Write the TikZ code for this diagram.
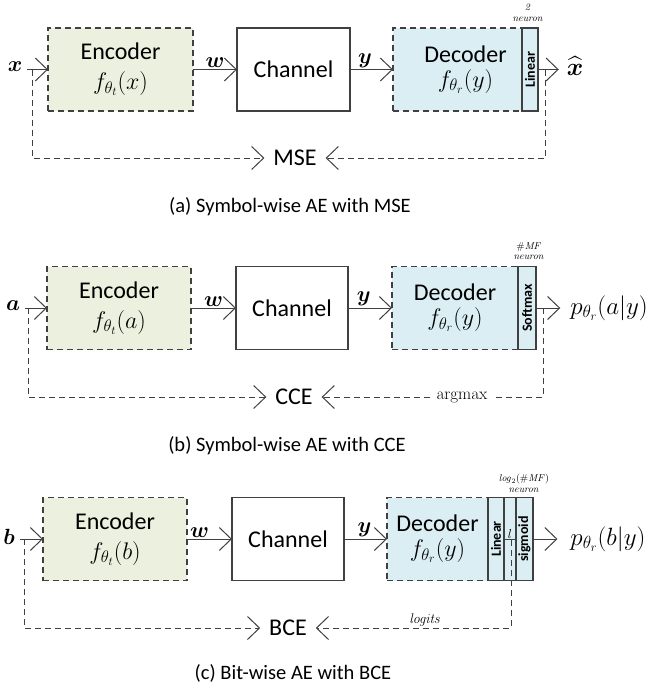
\RequirePackage{fix-cm}
\documentclass[tikz,border=0pt]{standalone}
\usepackage{amsmath,bm}
\usepackage{graphicx}
\usepackage[no-math]{fontspec}
\setmainfont{Carlito}
\usetikzlibrary{arrows.meta}
\definecolor{ln}{HTML}{404040}
\definecolor{encg}{HTML}{EBF1DE}
\definecolor{decb}{HTML}{DAEEF3}
\tikzset{
  encbox/.style={draw=ln, line width=1.1pt, dash pattern=on 6pt off 4pt, fill=encg, minimum height=83pt, inner sep=0pt, outer sep=0pt, align=center, font=\fontsize{24}{30}\selectfont},
  chanbox/.style={draw=ln, line width=1.1pt, fill=white, minimum height=83pt, inner sep=0pt, outer sep=0pt, font=\fontsize{24}{30}\selectfont},
  decbox/.style={draw=ln, line width=1.1pt, dash pattern=on 6pt off 4pt, fill=decb, minimum height=83pt, inner sep=0pt, outer sep=0pt, align=center, font=\fontsize{24}{25}\selectfont},
  stripbox/.style={draw=ln, line width=1.1pt, solid, fill=decb, minimum height=83pt, inner sep=0pt, outer sep=0pt, font=\bfseries\fontsize{14}{14}\selectfont},
  arr/.style={draw=ln, line width=1pt, -{Straight Barb[length=12pt,width=23pt]}},
  fb/.style={arr, dash pattern=on 6pt off 4pt},
  fbline/.style={draw=ln, line width=1pt, dash pattern=on 6pt off 4pt},
  lossn/.style={font=\fontsize{24}{24}\selectfont, inner xsep=9pt, inner ysep=2pt, outer sep=0pt},
  capn/.style={font=\fontsize{20.5}{24}\selectfont, inner sep=0pt},
  neur/.style={font=\fontsize{10}{10.5}\selectfont, inner sep=0pt, align=center},
  io/.style={font=\fontsize{22}{22}\selectfont, inner ysep=0pt, outer sep=0pt},
  outl/.style={font=\fontsize{25}{25}\selectfont, inner ysep=0pt, outer sep=0pt},
  wl/.style={font=\fontsize{22}{22}\selectfont, inner sep=1.5pt}
}
\begin{document}
\begin{tikzpicture}[x=1pt,y=-1pt]
\useasboundingbox (0,0) rectangle (653,685);

% ---------------- Panel (a) ----------------
\node[io, inner xsep=5pt] (xA) at (15,67) {$\bm{x}$};
\node[encbox, minimum width=145pt] (encA) at (120.5,69.5) {Encoder\\$f_{\theta_t}(x)$};
\node[chanbox, minimum width=113pt] (chA) at (293.5,69.5) {Channel};
\node[decbox, minimum width=145pt] (decA) at (465.5,69.5) {Decoder\\$f_{\theta_r}(y)$};
\node[stripbox, minimum width=16pt] (linA) at (530,69.5) {\rotatebox{90}{Linear}};
\node[neur] (nA) at (528,13) {$\mathit{2}$\\$\mathit{neuron}$};
\node[outl, inner xsep=8pt] (xhA) at (575,66) {$\widehat{\bm{x}}$};
\draw[arr] (xA.east |- encA.west) -- (encA.west);
\draw[arr] (encA) -- node[wl, above] {$\bm{w}$} (chA);
\draw[arr] (chA) -- node[wl, above, pos=0.35] {$\bm{y}$} (decA);
\draw[arr] (linA.east) -- (xhA.west |- linA.east);
\node[lossn] (mse) at (295,158) {MSE};
\coordinate (fa1) at (32,69.5);
\coordinate (fa2) at (32,158);
\coordinate (fa3) at (545,69.5);
\coordinate (fa4) at (545,158);
\draw[fb] (fa1) -- (fa2) -- (mse);
\draw[fb] (fa3) -- (fa4) -- (mse);
\node[capn] (capA) at (290,207) {(a) Symbol-wise AE with MSE};

% ---------------- Panel (b) ----------------
\node[io, inner xsep=5pt] (aB) at (13,306) {$\bm{a}$};
\node[encbox, minimum width=144pt] (encB) at (119,308) {Encoder\\$f_{\theta_t}(a)$};
\node[chanbox, minimum width=112pt] (chB) at (292,308) {Channel};
\node[decbox, minimum width=126pt] (decB) at (455,308) {Decoder\\$f_{\theta_r}(y)$};
\node[stripbox, minimum width=18pt] (smB) at (527,308) {\rotatebox{90}{Softmax}};
\node[neur] (nB) at (529,251) {$\#\mathit{MF}$\\$\mathit{neuron}$};
\node[outl, inner xsep=10pt] (pB) at (609,308) {$p_{\theta_r}(a|y)$};
\draw[arr] (aB.east |- encB.west) -- (encB.west);
\draw[arr] (encB) -- node[wl, above] {$\bm{w}$} (chB);
\draw[arr] (chB) -- node[wl, above, pos=0.36] {$\bm{y}$} (decB);
\draw[arr] (smB.east) -- (pB.west |- smB.east);
\node[lossn] (cce) at (294,397) {CCE};
\node[font=\fontsize{17}{17}\selectfont, inner xsep=6pt, inner ysep=0pt] (argm) at (462,397) {$\mathrm{argmax}$};
\coordinate (fb1) at (28,308);
\coordinate (fb2) at (28,397);
\coordinate (fb3) at (543,308);
\coordinate (fb4) at (543,397);
\draw[fb] (fb1) -- (fb2) -- (cce);
\draw[fbline] (fb3) -- (fb4) -- (argm);
\draw[fb] (argm) -- (cce);
\node[capn] (capB) at (287,446) {(b) Symbol-wise AE with CCE};

% ---------------- Panel (c) ----------------
\node[io, inner xsep=5pt] (bC) at (9,537) {$\bm{b}$};
\node[encbox, minimum width=144pt] (encC) at (115,539) {Encoder\\$f_{\theta_t}(b)$};
\node[chanbox, minimum width=112pt] (chC) at (288,539) {Channel};
\node[decbox, minimum width=101pt] (decC) at (437.5,539) {Decoder\\$f_{\theta_r}(y)$};
\node[stripbox, minimum width=16pt] (linC) at (496,539) {\rotatebox{90}{Linear}};
\node[stripbox, minimum width=12pt] (lC) at (510,539) {};
\node[stripbox, minimum width=17pt] (sigC) at (524.5,539) {\rotatebox{90}{sigmoid}};
\node[neur] (nC) at (524,483) {$\mathit{log}_{2}(\#\mathit{MF})$\\$\mathit{neuron}$};
\node[outl, inner xsep=13pt] (pC) at (608,539) {$p_{\theta_r}(b|y)$};
\draw[arr] (bC.east |- encC.west) -- (encC.west);
\draw[arr] (encC) -- node[wl, above, pos=0.28] {$\bm{w}$} (chC);
\draw[arr] (chC) -- node[wl, above, pos=0.48] {$\bm{y}$} (decC);
\draw[draw=ln, line width=1pt] (linC) -- node[font=\fontsize{13}{13}\selectfont, above, inner sep=0.5pt] {$l$} (sigC);
\draw[arr] (sigC.east) -- (pC.west |- sigC.east);
\node[lossn] (bce) at (288,628) {BCE};
\coordinate (fc1) at (24,539);
\coordinate (fc2) at (24,628);
\coordinate (fc3) at (511,540);
\coordinate (fc4) at (511,628);
\draw[fb] (fc1) -- (fc2) -- (bce);
\draw[fb] (fc3) -- (fc4) -- node[pos=0.44, above, inner sep=1.5pt, font=\fontsize{14}{14}\selectfont] {$\mathit{logits}$} (bce);
\node[capn] (capC) at (293,673) {(c) Bit-wise AE with BCE};
\end{tikzpicture}
\end{document}
